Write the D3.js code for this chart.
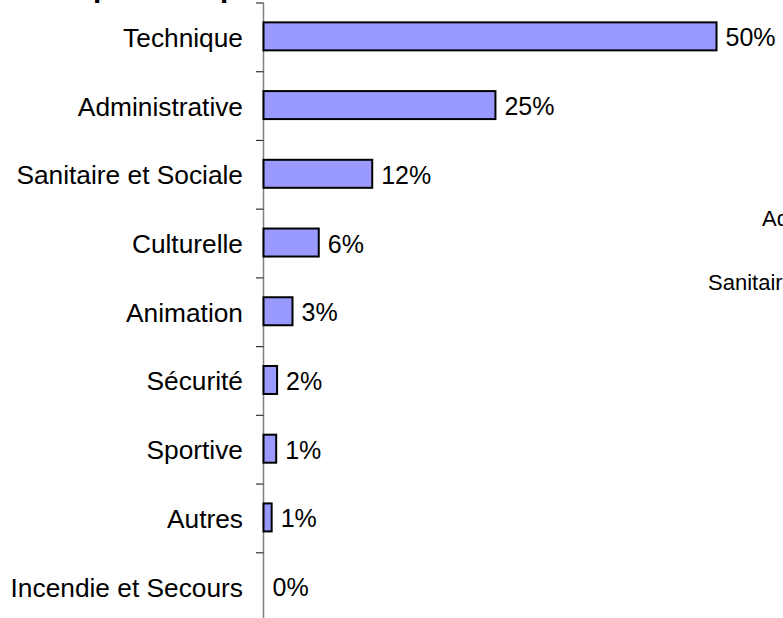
<!DOCTYPE html>
<html>
<head>
<meta charset="utf-8">
<script src="https://cdn.jsdelivr.net/npm/d3@7"></script>
<style>
  body { margin: 0; background: #fff; }
  svg { display: block; font-family: "Liberation Sans", Arial, sans-serif; }
</style>
</head>
<body>
<script>
// categories and values (percent)
var categories = ['Technique', 'Administrative', 'Sanitaire et Sociale', 'Culturelle',
  'Animation', 'Sécurité', 'Sportive', 'Autres', 'Incendie et Secours'];
var values = [50.0, 25.6, 12.0, 6.1, 3.2, 1.5, 1.4, 0.9, 0];
var valueLabels = ['50%', '25%', '12%', '6%', '3%', '2%', '1%', '1%', '0%'];
// labels of a neighbouring chart, cut off by the right edge
var sideLabels = ['Administrative', 'Sanitaire et Sociale'];

var width = 783, height = 618;

var svg = d3.select('body').append('svg')
  .attr('width', width).attr('height', height);

var x = d3.scaleLinear().domain([0, 50]).range([263.5, 716.5]);
var y = d3.scaleBand().domain(categories).range([3, 621.5]);

// title, mostly above the top edge
svg.append('text')
  .attr('x', 55).attr('y', -3)
  .attr('font-size', 29.7).attr('font-weight', 'bold')
  .text('Répartition par filière');

// category axis
var axis = svg.append('g');
axis.append('line')
  .attr('x1', 263.5).attr('x2', 263.5)
  .attr('y1', 3).attr('y2', height)
  .attr('stroke', '#808080').attr('stroke-width', 1.5);

var bounds = categories.map(function(c) { return y(c); });
bounds.push(y.range()[1]);
axis.selectAll('line.tick')
  .data(bounds)
  .enter().append('line')
  .attr('class', 'tick')
  .attr('x1', 256).attr('x2', 263.5)
  .attr('y1', function(d) { return d; })
  .attr('y2', function(d) { return d; })
  .attr('stroke', '#333').attr('stroke-width', 1.2);

axis.selectAll('text')
  .data(categories)
  .enter().append('text')
  .attr('x', 243)
  .attr('y', function(d) { return y(d) + y.bandwidth() / 2 + 9.5; })
  .attr('text-anchor', 'end')
  .attr('font-size', 26.3)
  .text(function(d) { return d; });

// bars
var barH = 28;
svg.selectAll('rect.bar')
  .data(values)
  .enter().append('rect')
  .attr('class', 'bar')
  .attr('x', x(0))
  .attr('y', function(d, i) { return y(categories[i]) + y.bandwidth() / 2 - barH / 2 - 1; })
  .attr('width', function(d) { return x(d) - x(0); })
  .attr('height', barH)
  .attr('fill', function(d) { return d > 0 ? '#9999FF' : 'none'; })
  .attr('stroke', function(d) { return d > 0 ? '#000' : 'none'; })
  .attr('stroke-width', 2);

// value labels
svg.selectAll('text.val')
  .data(values)
  .enter().append('text')
  .attr('class', 'val')
  .attr('x', function(d) { return x(d) + 9; })
  .attr('y', function(d, i) { return y(categories[i]) + y.bandwidth() / 2 + 9; })
  .attr('font-size', 25)
  .text(function(d, i) { return valueLabels[i]; });

// cut-off labels on the right
svg.append('text').attr('x', 762).attr('y', 226).attr('font-size', 22).text(sideLabels[0]);
svg.append('text').attr('x', 708).attr('y', 290).attr('font-size', 22).text(sideLabels[1]);
</script>
</body>
</html>
